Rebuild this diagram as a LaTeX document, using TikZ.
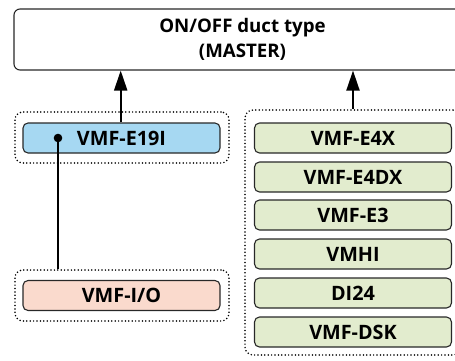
\documentclass[tikz,border=0pt]{standalone}
\usepackage{fontspec}
\setmainfont{Open Sans}
\usetikzlibrary{arrows.meta,calc}
\definecolor{bluefill}{RGB}{166,216,242}
\definecolor{pinkfill}{RGB}{250,218,205}
\definecolor{greenfill}{RGB}{226,236,206}
\definecolor{edge}{RGB}{40,40,40}
\tikzset{
  unitbox/.style={draw=edge,line width=1.1pt,rounded corners=5pt,minimum width=197pt,minimum height=30pt,inner sep=0pt,font=\fontsize{19.8}{22}\selectfont\bfseries},
  grpbox/.style={draw=black,line width=1.7pt,line cap=round,dash pattern=on 0pt off 3.4pt,rounded corners=8pt},
  conn/.style={line width=2pt,draw=black},
  arr/.style={conn,-{Triangle[length=20pt,width=13pt]}}
}
\begin{document}
\begin{tikzpicture}[x=1pt,y=-1pt]
\useasboundingbox (0,0) rectangle (455,361);
\begin{scope}
\clip (0,0) rectangle (455,361);
% top box
\node[draw=edge,line width=1.1pt,rounded corners=6pt,minimum width=457pt,minimum height=61pt,inner sep=0pt,align=center,font=\fontsize{18.7}{25}\selectfont\bfseries] (top) at (242.5,39.5) {ON/OFF duct type\\(MASTER)};
% left groups
\node[grpbox,minimum width=214pt,minimum height=51pt] (lgrp) at (122,137.5) {};
\node[unitbox,fill=bluefill] (e19i) at (121.5,138) {VMF-E19I};
\node[grpbox,minimum width=214pt,minimum height=51pt] (iogrp) at (122,295.5) {};
\node[unitbox,fill=pinkfill] (io) at (121.5,295.5) {VMF-I/O};
% right group
\node[grpbox,minimum width=216pt,minimum height=245pt] (rgrp) at (353,232.5) {};
\node[unitbox,fill=greenfill] (e4x) at (353,138) {VMF-E4X};
\node[unitbox,fill=greenfill] (e4dx) at (353,177) {VMF-E4DX};
\node[unitbox,fill=greenfill] (e3) at (353,215) {VMF-E3};
\node[unitbox,fill=greenfill] (vmhi) at (353,254) {VMHI};
\node[unitbox,fill=greenfill] (di24) at (353,293) {DI24};
\node[unitbox,fill=greenfill] (dsk) at (353,332) {VMF-DSK};
% connectors
\draw[arr] (e19i.north -| 120.7,0) -- (120.7,0 |- top.south);
\draw[arr] (e4x.north |- rgrp.north) -- (e4x.north |- top.south);
\coordinate (dot) at (58,138);
\fill (dot) circle (4.3pt);
\draw[conn] (dot) -- (dot |- iogrp.north);
\end{scope}
\end{tikzpicture}
\end{document}
